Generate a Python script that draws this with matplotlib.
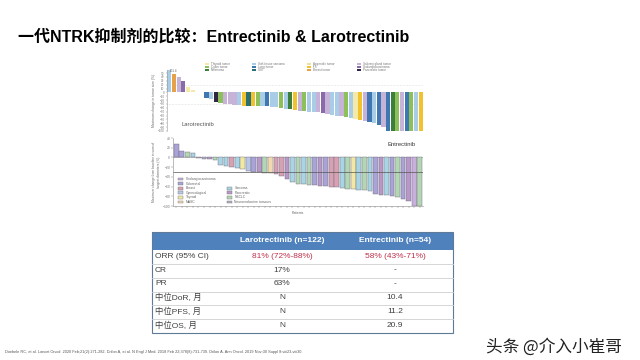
import numpy as np
import matplotlib.pyplot as plt
from matplotlib.patches import Rectangle

plt.rcParams['font.family'] = ['Liberation Sans', 'Noto Sans CJK SC', 'DejaVu Sans']

title = '一代NTRK抑制剂的比较：Entrectinib & Larotrectinib'

# Larotrectinib waterfall (legend order, row by row)
laro_types = ['Thyroid tumor', 'Soft-tissue sarcoma', 'Appendix tumor', 'Salivary gland tumor',
              'Colon tumor', 'Lung tumor', 'IFS', 'Cholangiocarcinoma',
              'Melanoma', 'GIST', 'Breast tumor', 'Pancreatic tumor']
laro_colors = ['#f4e9a8', '#a9cde6', '#f0dfa0', '#c7b3d8',
               '#8dbf5a', '#3f78b0', '#efc22e', '#8a6aa8',
               '#3d7f3a', '#2a6f73', '#e6a24a', '#2f2744']
laro_change = [101.4, 47, 39, 30, 13, 5, 1, 0.5,
               -15, -17, -24, -27, -29, -31, -32, -33, -34, -34,
               -35, -35, -36, -36, -37, -38, -40, -42, -44, -46,
               -48, -49, -50, -51, -52, -54, -56, -58, -60, -62,
               -64, -66, -68, -71, -74, -77, -80, -85, -90,
               -100, -100, -100, -100, -100, -100, -100, -100]
laro_bar_type = [1, 10, 3, 7, 0, 0, 2, 2,
                 5, 1, 11, 4, 3, 3, 3, 1, 6, 9, 6, 4,
                 1, 5, 1, 1, 4, 1, 8, 6, 3, 4,
                 1, 1, 3, 7, 3, 1, 1, 3, 4, 1,
                 0, 6, 3, 5, 1, 5, 3, 5, 8, 4,
                 3, 5, 4, 1, 6]

# Entrectinib waterfall
entr_types = ['Cholangiocarcinoma', 'Colorectal', 'Breast', 'Gynecological', 'Thyroid', 'MASC',
              'Sarcoma', 'Pancreatic', 'NSCLC', 'Neuroendocrine tumours']
entr_colors = ['#c9b0dc', '#a9a3d6', '#d7a1b4', '#b7c7e6', '#f2e8a6', '#f3d9b0',
               '#a8d4e4', '#b898c8', '#b4d6b4', '#b0b0c4']
entr_change = [28, 13, 12, 10, -2, -4, -4, -6, -16, -17,
               -19, -21, -24, -28, -30, -31, -32, -33, -35, -38,
               -45, -50, -54, -55, -56, -57, -58, -59, -60, -61,
               -62, -64, -66, -67, -68, -70, -75, -77, -78, -80,
               -82, -86, -90, -100, -100]
entr_bar_type = [1, 1, 8, 6, 9, 9, 7, 8, 6, 6,
                 2, 6, 4, 3, 1, 7, 8, 5, 2, 2,
                 7, 6, 8, 6, 8, 1, 7, 1, 2, 2,
                 6, 8, 4, 6, 8, 6, 1, 7, 6, 1,
                 8, 1, 7, 0, 8]

# table
table_header = ['Larotrectinib (n=122)', 'Entrectinib (n=54)']
table_rows = ['ORR (95% CI)', 'CR', 'PR', '中位DoR, 月', '中位PFS, 月', '中位OS, 月']
laro_col = ['81% (72%-88%)', '17%', '63%', 'N', 'N', 'N']
entr_col = ['58% (43%-71%)', '-', '-', '10.4', '11.2', '20.9']

footnote = ('Doebele RC, et al. Lancet Oncol. 2020 Feb;21(2):271-282. Drilon A, et al. N Engl J Med. '
            '2018 Feb 22;378(8):731-739. Drilon A. Ann Oncol. 2019 Nov;30 Suppl 8:viii23-viii30.')
watermark = '头条 @介入小崔哥'

fig = plt.figure(figsize=(6.4, 3.6), dpi=100)
fig.patch.set_facecolor('white')

# --- Larotrectinib chart
ax1 = fig.add_axes([167 / 640, 1 - 131 / 360, 256 / 640, 61 / 360])
x1 = np.arange(len(laro_change))
ax1.bar(x1, laro_change, width=0.9, color=[laro_colors[t] for t in laro_bar_type], linewidth=0)
ax1.set_xlim(-0.5, len(laro_change) - 0.5)
ax1.set_ylim(-100, 58)
for yv in (20, -30):
    ax1.axhline(yv, color='#c8c8c8', lw=0.4, ls=':', zorder=0)
for s in ('top', 'right', 'bottom'):
    ax1.spines[s].set_visible(False)
ax1.spines['left'].set_color('#999999')
ax1.spines['left'].set_linewidth(0.4)
ax1.set_xticks([])
ax1.set_yticks(np.arange(-100, 51, 10))
ax1.tick_params(axis='y', labelsize=2.2, length=1, width=0.3, pad=0.8, colors='#777777')
ax1.set_ylabel('Maximum change in tumor size (%)', fontsize=2.4, color='#666666', labelpad=1.5)
ax1.text(0.2, 53, '101.4', fontsize=2.2, color='#666666')
ax1.patch.set_alpha(0)

# --- Entrectinib chart
ax2 = fig.add_axes([173 / 640, 1 - 206 / 360, 250 / 640, 68 / 360])
x2 = np.arange(len(entr_change))
ax2.bar(x2, entr_change, width=0.85, color=[entr_colors[t] for t in entr_bar_type],
        edgecolor='#6a6a7a', linewidth=0.3)
ax2.set_xlim(-0.6, len(entr_change) - 0.4)
ax2.set_ylim(-100, 40)
ax2.axhline(0, color='#888888', lw=0.4, zorder=0)
ax2.axhline(-30, color='#555555', lw=0.5)
for s in ('top', 'right'):
    ax2.spines[s].set_visible(False)
for s in ('left', 'bottom'):
    ax2.spines[s].set_color('#888888')
    ax2.spines[s].set_linewidth(0.4)
ax2.set_xticks(x2)
ax2.set_xticklabels([])
ax2.set_yticks(np.arange(-100, 41, 20))
ax2.tick_params(labelsize=2.4, length=1.2, width=0.3, pad=0.8, colors='#777777')
ax2.set_ylabel('Maximum change from baseline in sum of\nlongest diameters (%)', fontsize=2.3,
               color='#666666', labelpad=1.5)
ax2.set_xlabel('Patients', fontsize=2.4, color='#666666', labelpad=1.5)
ax2.patch.set_alpha(0)

# --- overlay in pixel coordinates for slide text, legends and table
ov = fig.add_axes([0, 0, 1, 1])
ov.set_xlim(0, 640)
ov.set_ylim(360, 0)
ov.axis('off')
ov.patch.set_alpha(0)

ov.text(18, 37, title, fontsize=11.5, fontweight='bold', va='center', ha='left', color='black')

# top legend (4 columns x 3 rows)
leg_x = [205, 252, 307, 357]
leg_y = [64.3, 67.2, 70.1]
for i, name in enumerate(laro_types):
    cx, ry = leg_x[i % 4], leg_y[i // 4]
    ov.add_patch(Rectangle((cx, ry - 1), 4, 2, fc=laro_colors[i], ec='none'))
    ov.text(cx + 6, ry, name, fontsize=2.2, color='#777777', va='center')

ov.text(181, 125, 'Larotrectinib', fontsize=4.2, color='#555555', va='center')
ov.text(388, 145, 'Entrectinib', fontsize=4.2, color='#333333', va='center')

# bottom legend
col1_y = [179, 183.6, 188.2, 192.8, 197.4, 202]
col2_y = [188.2, 192.8, 197.4, 202]
for i, name in enumerate(entr_types):
    if i < 6:
        cx, ry = 178, col1_y[i]
    else:
        cx, ry = 227, col2_y[i - 6]
    ov.add_patch(Rectangle((cx, ry - 1.4), 5, 2.8, fc=entr_colors[i], ec='#777777', lw=0.3))
    ov.text(cx + 7.5, ry, name, fontsize=2.4, color='#666666', va='center')

# table
t_left, t_right, t_top, t_head = 152, 453, 232, 250
t_bottom = 333
row_h = (t_bottom - t_head) / len(table_rows)
ov.add_patch(Rectangle((t_left, t_top), t_right - t_left, t_head - t_top, fc='#4f81bd', ec='none'))
for j, h in enumerate(table_header):
    ov.text([282, 395][j], (t_top + t_head) / 2, h, fontsize=6, fontweight='bold', color='white',
            ha='center', va='center')
for i, r in enumerate(table_rows):
    yc = t_head + row_h * (i + 0.45)
    if i > 0:
        ov.plot([t_left, t_right], [t_head + row_h * i] * 2, color='#cfcfcf', lw=0.6)
    vcol = '#c0304a' if i == 0 else '#404040'
    ov.text(155, yc, r, fontsize=6, color='#404040', ha='left', va='center')
    ov.text(282, yc, laro_col[i], fontsize=6, color=vcol, ha='center', va='center')
    ov.text(395, yc, entr_col[i], fontsize=6, color=vcol, ha='center', va='center')
ov.add_patch(Rectangle((t_left, t_top), t_right - t_left, t_bottom - t_top, fill=False,
                       ec='#5d7a99', lw=0.8))

ov.text(5, 352, footnote, fontsize=2.8, color='#555555', va='center', ha='left')
ov.text(486, 347, watermark, fontsize=12, color='#222222', va='center', ha='left',
        family=['Noto Sans CJK SC'])

fig.savefig('out.png', dpi=100)
